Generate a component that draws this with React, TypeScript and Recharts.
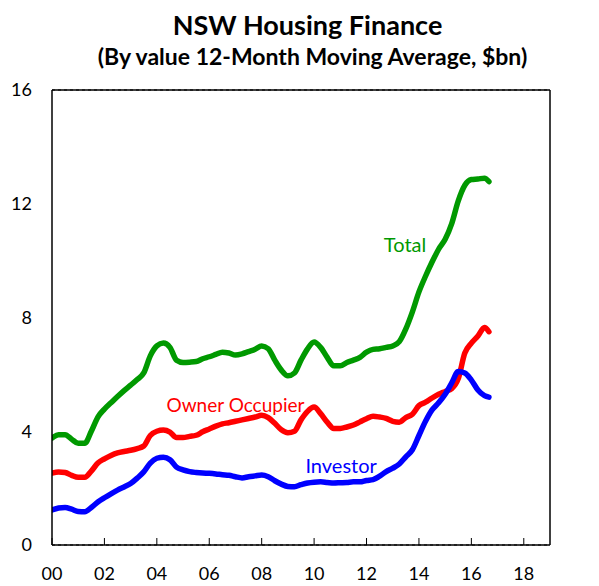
import React from 'react';
import { LineChart, Line, XAxis, YAxis, CartesianGrid, ReferenceLine, ReferenceDot } from 'recharts';

const years = [
  2000.0, 2000.25, 2000.5, 2000.75, 2001.0, 2001.25, 2001.5, 2001.75,
  2002.0, 2002.25, 2002.5, 2002.75, 2003.0, 2003.25, 2003.5, 2003.75,
  2004.0, 2004.25, 2004.5, 2004.75, 2005.0, 2005.25, 2005.5, 2005.75,
  2006.0, 2006.25, 2006.5, 2006.75, 2007.0, 2007.25, 2007.5, 2007.75,
  2008.0, 2008.25, 2008.5, 2008.75, 2009.0, 2009.25, 2009.5, 2009.75,
  2010.0, 2010.25, 2010.5, 2010.75, 2011.0, 2011.25, 2011.5, 2011.75,
  2012.0, 2012.25, 2012.5, 2012.75, 2013.0, 2013.25, 2013.5, 2013.75,
  2014.0, 2014.25, 2014.5, 2014.75, 2015.0, 2015.25, 2015.5, 2015.75,
  2016.0, 2016.25, 2016.5, 2016.67,
];

const total = [
  3.76, 3.88, 3.88, 3.72, 3.58, 3.58, 4.0, 4.5,
  4.78, 5.0, 5.22, 5.43, 5.62, 5.82, 6.05, 6.65,
  7.0, 7.1, 6.95, 6.5, 6.42, 6.43, 6.45, 6.55,
  6.62, 6.7, 6.78, 6.75, 6.68, 6.72, 6.8, 6.88,
  7.0, 6.9, 6.5, 6.15, 5.95, 6.05, 6.5, 6.9,
  7.14, 6.95, 6.6, 6.3, 6.3, 6.42, 6.5, 6.6,
  6.78, 6.88, 6.9, 6.95, 7.0, 7.15, 7.6, 8.2,
  8.9, 9.45, 9.95, 10.4, 10.75, 11.3, 12.1, 12.65,
  12.85, 12.87, 12.9, 12.78,
];

const ownerOccupier = [
  2.53, 2.57, 2.55, 2.45, 2.38, 2.38, 2.6, 2.88,
  3.03, 3.15, 3.24, 3.29, 3.33, 3.39, 3.48, 3.85,
  4.0, 4.04, 3.97, 3.78, 3.78, 3.82, 3.86, 3.98,
  4.08, 4.18, 4.26, 4.3, 4.35, 4.4, 4.45, 4.5,
  4.56, 4.48, 4.28, 4.05, 3.95, 4.0, 4.4, 4.7,
  4.85, 4.62, 4.32, 4.1, 4.1, 4.15, 4.22, 4.33,
  4.44, 4.53, 4.5, 4.45, 4.35, 4.32, 4.48, 4.6,
  4.9, 5.02, 5.17, 5.3, 5.4, 5.5, 5.85, 6.75,
  7.1, 7.35, 7.65, 7.5,
];

const investor = [
  1.23, 1.3, 1.32, 1.26, 1.18, 1.17, 1.32, 1.51,
  1.66, 1.8, 1.93, 2.04, 2.16, 2.35, 2.57, 2.88,
  3.05, 3.09, 3.0, 2.74, 2.64, 2.58, 2.55, 2.53,
  2.52, 2.5, 2.47, 2.45, 2.4, 2.36, 2.4, 2.43,
  2.46, 2.4, 2.26, 2.14, 2.06, 2.05, 2.12, 2.18,
  2.21, 2.22, 2.2, 2.18, 2.19, 2.2, 2.22, 2.22,
  2.27, 2.3, 2.42, 2.58, 2.7, 2.85, 3.1, 3.35,
  3.85, 4.35, 4.75, 5.0, 5.3, 5.7, 6.1, 6.05,
  5.8, 5.45, 5.25, 5.2,
];

const xTicks = [2000, 2002, 2004, 2006, 2008, 2010, 2012, 2014, 2016, 2018];
const yTicks = [0, 4, 8, 12, 16];

const GREEN = '#009900';
const RED = '#ff0000';
const BLUE = '#0000ff';

const data = years.map((y, i) => ({
  year: y,
  total: total[i],
  owner: ownerOccupier[i],
  investor: investor[i],
}));

const XTick = (props: any) => {
  const { x, y, payload } = props;
  const label = String(payload.value % 100).padStart(2, '0');
  return (
    <g>
      <line x1={x} x2={x} y1={y} y2={y - 7} stroke="#000" strokeWidth={1} />
      <text x={x} y={y + 35} textAnchor="middle" fontSize={18} fill="#000">
        {label}
      </text>
    </g>
  );
};

export default function App() {
  return (
    <div
      style={{
        position: 'absolute',
        left: 0,
        top: 0,
        width: 599,
        height: 586,
        background: '#fff',
        fontFamily: 'Lato, sans-serif',
      }}
    >
      <div
        style={{
          position: 'absolute',
          left: 8,
          top: 8,
          width: 599,
          textAlign: 'center',
          fontWeight: 'bold',
          fontSize: 27,
          lineHeight: 'normal',
          color: '#000',
        }}
      >
        NSW Housing Finance
      </div>
      <div
        style={{
          position: 'absolute',
          left: 13,
          top: 42,
          width: 599,
          textAlign: 'center',
          fontWeight: 'bold',
          fontSize: 23,
          lineHeight: 'normal',
          color: '#000',
        }}
      >
        (By value 12-Month Moving Average, $bn)
      </div>
      <div style={{ position: 'absolute', left: 0, top: 0 }}>
        <LineChart
          width={599}
          height={586}
          data={data}
          margin={{ top: 90, right: 0, bottom: 0, left: 0 }}
        >
          <CartesianGrid
            vertical={false}
            stroke="#000"
            strokeDasharray="3 3"
            strokeWidth={1}
          />
          <XAxis
            dataKey="year"
            type="number"
            domain={[2000, 2019]}
            ticks={xTicks}
            allowDataOverflow
            height={41}
            tickSize={0}
            tickMargin={0}
            tickLine={false}
            tick={<XTick />}
            axisLine={{ stroke: '#000', strokeWidth: 1.5 }}
            interval={0}
          />
          <YAxis
            yAxisId="left"
            domain={[0, 16]}
            ticks={yTicks}
            width={52}
            tickSize={0}
            tickMargin={20}
            tickLine={false}
            axisLine={{ stroke: '#000', strokeWidth: 1.5 }}
            tick={{ fill: '#000', fontSize: 18 }}
            interval={0}
          />
          <YAxis
            yAxisId="right"
            orientation="right"
            domain={[0, 16]}
            ticks={yTicks}
            width={49}
            tickSize={0}
            tickMargin={18}
            tickLine={false}
            axisLine={{ stroke: '#000', strokeWidth: 1.5 }}
            tick={{ fill: '#000', fontSize: 18 }}
            interval={0}
          />
          <ReferenceLine yAxisId="left" y={16} stroke="#000" strokeWidth={1.5} />
          <Line
            yAxisId="left"
            type="monotone"
            dataKey="total"
            stroke={GREEN}
            strokeWidth={5.5}
            dot={false}
            strokeLinecap="round"
            isAnimationActive={false}
          />
          <Line
            yAxisId="left"
            type="monotone"
            dataKey="owner"
            stroke={RED}
            strokeWidth={5.5}
            dot={false}
            strokeLinecap="round"
            isAnimationActive={false}
          />
          <Line
            yAxisId="left"
            type="monotone"
            dataKey="investor"
            stroke={BLUE}
            strokeWidth={5.5}
            dot={false}
            strokeLinecap="round"
            isAnimationActive={false}
          />
          <ReferenceDot
            yAxisId="left"
            x={2013.47}
            y={10.55}
            r={0}
            fill="none"
            stroke="none"
            ifOverflow="visible"
            label={{ value: 'Total', position: 'center', fill: GREEN, fontSize: 20 }}
          />
          <ReferenceDot
            yAxisId="left"
            x={2007.0}
            y={4.92}
            r={0}
            fill="none"
            stroke="none"
            ifOverflow="visible"
            label={{ value: 'Owner Occupier', position: 'center', fill: RED, fontSize: 19 }}
          />
          <ReferenceDot
            yAxisId="left"
            x={2011.03}
            y={2.78}
            r={0}
            fill="none"
            stroke="none"
            ifOverflow="visible"
            label={{ value: 'Investor', position: 'center', fill: BLUE, fontSize: 20 }}
          />
        </LineChart>
      </div>
    </div>
  );
}
